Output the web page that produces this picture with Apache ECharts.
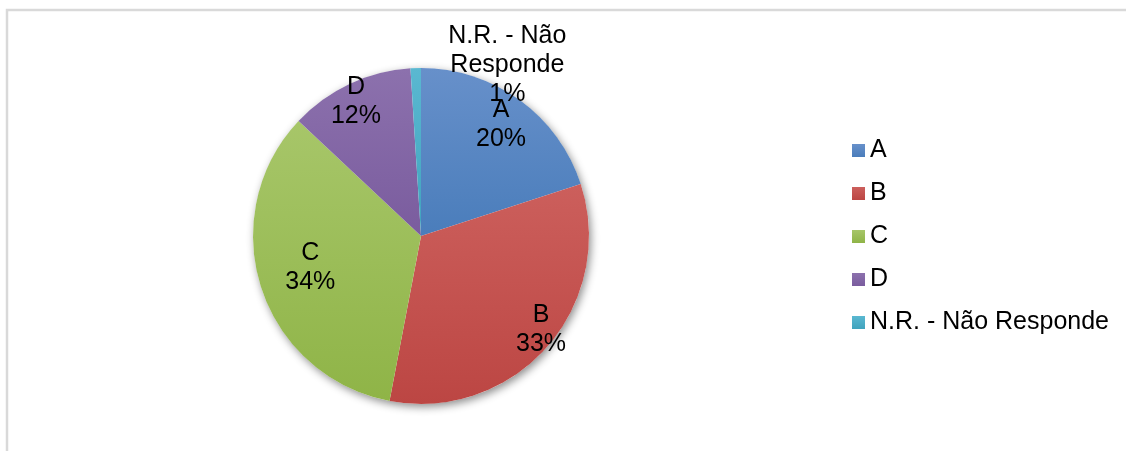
<!DOCTYPE html>
<html>
<head>
<meta charset="utf-8">
<script src="https://cdn.jsdelivr.net/npm/echarts@6/dist/echarts.min.js"></script>
<style>
  html, body { margin: 0; padding: 0; background: #fff; }
  #chart { width: 1126px; height: 451px; }
</style>
</head>
<body>
<div id="chart"></div>
<script>
// dados
var categorias = ["A", "B", "C", "D", "N.R. - Não Responde"];
var valores = [20, 33, 34, 12, 1];

// cores tipo Excel (topo mais claro, base mais escura)
var coresTopo = ["#6790ca", "#cc5f5c", "#a7c669", "#8c71ad", "#5ab8d1"];
var coresBase = ["#4a7dbb", "#bc4643", "#8fb447", "#7a5c9e", "#40a3bd"];

// deslocamento dos rótulos (best fit do Excel)
var ajusteRotulo = [[-7, 8], [9, -4], [30, -14], [-2, 0], [91, -23]];

var myChart = echarts.init(document.getElementById("chart"));

function grad(i) {
  return new echarts.graphic.LinearGradient(0, 0, 0, 1, [
    { offset: 0, color: coresTopo[i] },
    { offset: 1, color: coresBase[i] }
  ]);
}

var dadosPizza = categorias.map(function (nome, i) {
  return { name: nome, value: valores[i], itemStyle: { color: grad(i) } };
});

var dadosRotulo = categorias.map(function (nome, i) {
  return { name: nome, value: valores[i], label: { offset: ajusteRotulo[i] } };
});

var centro = [421, 236];

myChart.setOption({
  animation: false,
  graphic: [
    {
      type: "rect",
      shape: { x: 7, y: 10, width: 1150, height: 470 },
      style: { fill: "none", stroke: "#d9d9d9", lineWidth: 2.5 },
      z: -10
    }
  ],
  legend: {
    data: categorias,
    orient: "vertical",
    left: 847,
    top: 133,
    itemWidth: 13,
    itemHeight: 13,
    itemGap: 18,
    icon: "rect",
    textStyle: { fontFamily: "Liberation Sans, Arial", fontSize: 25, color: "#000" }
  },
  series: [
    {
      // sombra sob a pizza
      type: "pie",
      silent: true,
      center: centro,
      radius: [0, 168],
      label: { show: false },
      labelLine: { show: false },
      itemStyle: {
        color: "#fff",
        shadowBlur: 8,
        shadowColor: "rgba(0,0,0,0.45)",
        shadowOffsetX: 2,
        shadowOffsetY: 3
      },
      data: [{ name: "_sombra", value: 1 }],
      z: 1
    },
    {
      name: "Respostas",
      type: "pie",
      center: centro,
      radius: [0, 168],
      startAngle: 90,
      clockwise: true,
      label: { show: false },
      labelLine: { show: false },
      itemStyle: { borderWidth: 0 },
      emphasis: { disabled: true },
      data: dadosPizza,
      z: 2
    },
    {
      // série invisível só para posicionar os rótulos a ~145px do centro
      type: "pie",
      silent: true,
      center: centro,
      radius: [0, 290],
      startAngle: 90,
      clockwise: true,
      avoidLabelOverlap: false,
      labelLayout: { hideOverlap: false },
      itemStyle: { color: "rgba(0,0,0,0)" },
      labelLine: { show: false },
      label: {
        show: true,
        position: "inside",
        fontFamily: "Liberation Sans, Arial",
        fontSize: 25,
        lineHeight: 29,
        color: "#000",
        formatter: function (p) {
          var nome = p.dataIndex === 4 ? "N.R. - Não\nResponde" : p.name;
          return nome + "\n" + Math.round(p.percent) + "%";
        }
      },
      data: dadosRotulo,
      z: 3
    }
  ]
});

window.addEventListener("resize", function () {
  myChart.resize();
});
</script>
</body>
</html>
